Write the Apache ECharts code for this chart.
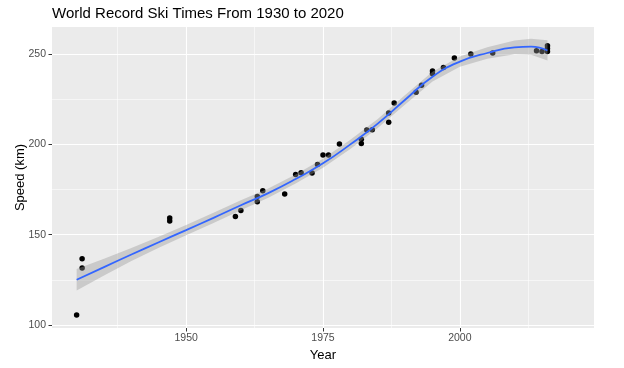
<!DOCTYPE html>
<html><head><meta charset="utf-8">
<script src="https://cdn.jsdelivr.net/npm/echarts@6/dist/echarts.min.js"></script>
<style>html,body{margin:0;padding:0;background:#fff}#c{width:624px;height:368px}</style>
</head><body><div id="c"></div>
<script>
// Observed world-record points
const pointYears  = [1930, 1931, 1931, 1947, 1947, 1959, 1960, 1963, 1963, 1964, 1968, 1970, 1971, 1973, 1974, 1975, 1976, 1978, 1982, 1982, 1983, 1984, 1987, 1987, 1988, 1992, 1993, 1995, 1995, 1997, 1999, 2002, 2006, 2014, 2015, 2016, 2016, 2016];
const pointSpeeds = [105.5, 136.7, 131.5, 159.2, 157.5, 160.1, 163.4, 171.1, 168.2, 174.3, 172.5, 183.3, 184.3, 184.1, 188.9, 194.1, 194.1, 200.2, 202.8, 200.5, 208.0, 208.1, 217.4, 212.2, 222.9, 228.8, 232.8, 240.7, 239.1, 242.6, 247.8, 250.0, 250.6, 251.8, 251.4, 254.6, 253.1, 251.4];

// Smoothed fit and confidence band
const smoothYears = [1930, 1935, 1940, 1945, 1950, 1955, 1960, 1965, 1970, 1975, 1980, 1985, 1990, 1995, 2000, 2005, 2010, 2013, 2016];
const smoothFit   = [125, 132, 139, 145.8, 152.5, 159.3, 166.3, 173, 180.8, 189.5, 200, 211.5, 224.7, 237.5, 245.8, 250.6, 253.7, 254.1, 252];
const bandLower   = [119, 127.4, 135.4, 142.8, 149.7, 156.5, 163.5, 170.4, 178.3, 187, 197.5, 209, 222.1, 234.8, 243, 247.4, 249.9, 249.7, 246.4];
const bandUpper   = [131, 136.6, 142.6, 148.8, 155.3, 162.1, 169.1, 175.6, 183.3, 192, 202.5, 214, 227.3, 240.2, 248.6, 253.8, 257.5, 258.5, 257.6];

// Axis ticks / gridlines
const xTicks = [1950, 1975, 2000];
const xMinor = [1937.5, 1962.5, 1987.5, 2012.5];
const yTicks = [100, 150, 200, 250];
const yMinor = [125, 175, 225];

const FONT = '"Liberation Sans", Arial, sans-serif';
const chart = echarts.init(document.getElementById('c'), null, {renderer: 'canvas'});

const gridData = []
  .concat(xTicks.map(v => ({xAxis: v, lineStyle: {color: '#fff', width: 1.1, type: 'solid'}})))
  .concat(xMinor.map(v => ({xAxis: v, lineStyle: {color: '#fff', width: 0.55, type: 'solid'}})))
  .concat(yTicks.map(v => ({yAxis: v, lineStyle: {color: '#fff', width: 1.1, type: 'solid'}})))
  .concat(yMinor.map(v => ({yAxis: v, lineStyle: {color: '#fff', width: 0.55, type: 'solid'}})));

chart.setOption({
  animation: false,
  title: {
    text: 'World Record Ski Times From 1930 to 2020',
    left: 52, top: 6, padding: 0,
    textStyle: {fontFamily: FONT, fontSize: 15, fontWeight: 'normal', color: '#000'}
  },
  grid: {left: 52, right: 30, top: 27, bottom: 40, show: true, backgroundColor: '#EBEBEB', borderWidth: 0, containLabel: false},
  xAxis: {
    type: 'value', min: 1925.5, max: 2024.5,
    name: 'Year', nameLocation: 'middle', nameGap: 20,
    nameTextStyle: {fontFamily: FONT, fontSize: 13, color: '#000'},
    axisLine: {show: false, onZero: false},
    axisTick: {show: true, length: 3.5, customValues: xTicks, lineStyle: {color: '#333', width: 1}},
    axisLabel: {customValues: xTicks, margin: 5, fontFamily: FONT, fontSize: 10.5, color: '#4D4D4D', formatter: v => String(v)},
    splitLine: {show: false}
  },
  yAxis: {
    type: 'value', min: 98.3, max: 265,
    name: 'Speed (km)', nameLocation: 'middle', nameGap: 25, nameRotate: 90, nameMoveOverlap: false,
    nameTextStyle: {fontFamily: FONT, fontSize: 13, color: '#000'},
    axisLine: {show: false, onZero: false},
    axisTick: {show: true, length: 3.5, customValues: yTicks, lineStyle: {color: '#333', width: 1}},
    axisLabel: {customValues: yTicks, margin: 6, fontFamily: FONT, fontSize: 10.5, color: '#4D4D4D', formatter: v => String(v)},
    splitLine: {show: false}
  },
  series: [
    {
      type: 'line', data: [[1925.5, 98.3]], symbol: 'none', silent: true,
      lineStyle: {opacity: 0}, z: 1,
      markLine: {silent: true, symbol: ['none', 'none'], label: {show: false}, z: 1, animation: false, data: gridData}
    },
    {
      type: 'scatter', z: 2, symbolSize: 5.5,
      itemStyle: {color: '#000', opacity: 1},
      data: pointYears.map((y, i) => [y, pointSpeeds[i]])
    },
    {
      type: 'custom', z: 3, silent: true,
      data: smoothYears.map((y, i) => [y, bandLower[i], bandUpper[i]]),
      renderItem: function (params, api) {
        if (params.dataIndex !== 0) return null;
        const pts = [];
        for (let i = 0; i < smoothYears.length; i++) pts.push(api.coord([smoothYears[i], bandUpper[i]]));
        for (let i = smoothYears.length - 1; i >= 0; i--) pts.push(api.coord([smoothYears[i], bandLower[i]]));
        return {type: 'polygon', shape: {points: pts, smooth: 0}, style: {fill: 'rgba(153,153,153,0.4)', stroke: null}};
      }
    },
    {
      type: 'line', z: 4, smooth: 0.5, symbol: 'none', silent: true,
      lineStyle: {color: '#3366FF', width: 1.8},
      data: smoothYears.map((y, i) => [y, smoothFit[i]])
    }
  ]
});
</script>
</body></html>
